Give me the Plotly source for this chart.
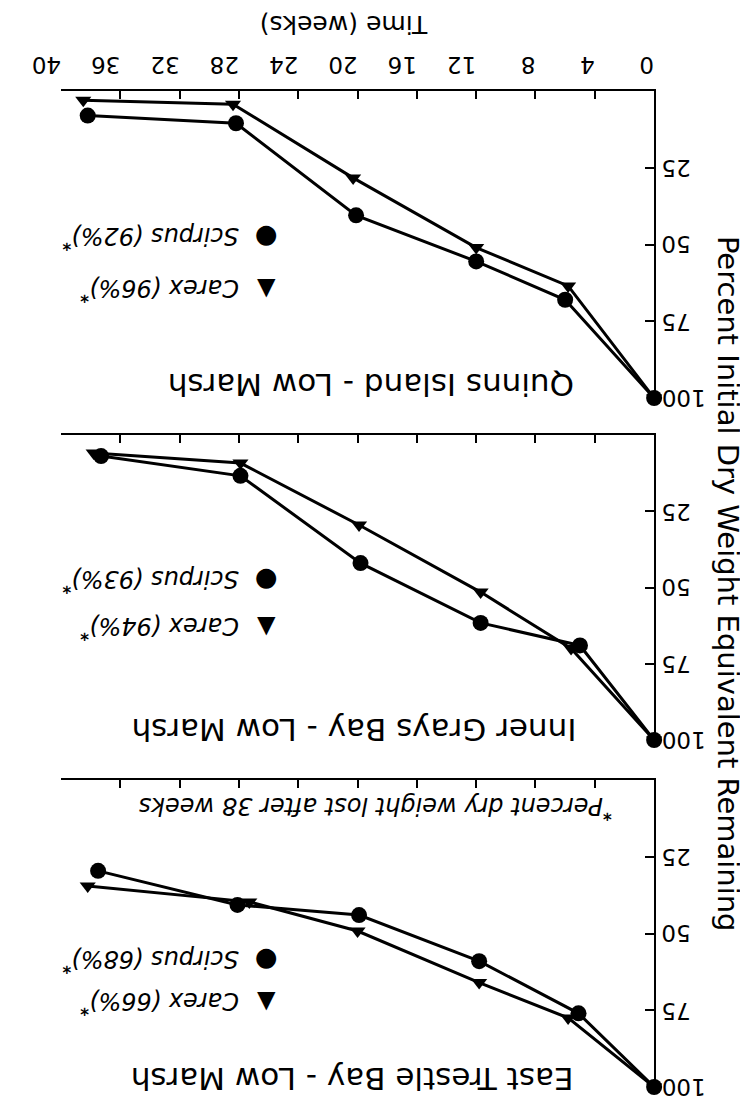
import plotly.graph_objects as go

W, H = 748, 1098
FONT = "DejaVu Sans"

# ---------------- data ----------------
week_ticks = [0, 4, 8, 12, 16, 20, 24, 28, 32, 36, 40]
pct_ticks = [25, 50, 75, 100]
pct_labels = ["25", "50", "75", "100"]

panel_titles = ["Quinns Island - Low Marsh",
                "Inner Grays Bay - Low Marsh",
                "East Trestle Bay - Low Marsh"]

scirpus_weeks = [[0, 6.0, 12.0, 20.1, 28.2, 38.2],
                 [0, 5.0, 11.7, 19.8, 27.9, 37.3],
                 [0, 5.1, 11.8, 19.9, 28.1, 37.5]]
scirpus_pct = [[100, 68.0, 55.5, 40.5, 10.5, 8.0],
               [100, 69.0, 61.6, 42.0, 13.4, 6.9],
               [100, 76.0, 59.0, 44.0, 40.7, 29.6]]

carex_weeks = [[0, 5.8, 12.0, 20.3, 28.4, 38.5],
               [0, 5.6, 11.7, 19.9, 27.9, 37.8],
               [0, 5.8, 11.8, 20.0, 27.3, 38.2]]
carex_pct = [[100, 63.5, 51.0, 28.3, 4.3, 3.0],
             [100, 70.0, 51.5, 29.5, 9.2, 5.9],
             [100, 77.5, 66.0, 49.2, 39.7, 34.5]]

scirpus_loss = [92, 93, 68]
carex_loss = [96, 94, 66]

# ---------------- layout geometry (pixels) ----------------
panels_px = [(83, 390), (427, 732), (772, 1079)]   # (top, bottom) of each panel
x_px = (25, 642)
title_pos = [(348, 377), (330, 722), (328, 1071)]
legend_rows = [(230, 282), (573, 620), (953, 995)]


def px(x):
    return x / W


def py(y):
    return 1 - y / H


fig = go.Figure()

layout = dict(
    width=W, height=H, autosize=False,
    margin=dict(l=0, r=0, t=0, b=0, pad=0),
    paper_bgcolor="white", plot_bgcolor="white",
    showlegend=False,
    font=dict(family=FONT, color="black"),
)

for i in range(3):
    xs = "" if i == 0 else str(i + 1)
    xref, yref = "x" + xs, "y" + xs
    top, bot = panels_px[i]

    fig.add_trace(go.Scatter(
        x=scirpus_weeks[i], y=scirpus_pct[i], mode="lines+markers",
        line=dict(color="black", width=3),
        marker=dict(symbol="circle", size=16, color="black"),
        xaxis=xref, yaxis=yref, cliponaxis=False, name="Scirpus"))
    fig.add_trace(go.Scatter(
        x=carex_weeks[i], y=carex_pct[i], mode="lines+markers",
        line=dict(color="black", width=3),
        marker=dict(symbol="triangle-down", size=14, color="black"),
        xaxis=xref, yaxis=yref, cliponaxis=False, name="Carex"))

    layout["xaxis" + xs] = dict(
        domain=[px(x_px[0]), px(x_px[1])], range=[40, 0], side="top",
        anchor=yref, showline=True, linecolor="black", linewidth=1.5,
        ticks="inside", ticklen=8, tickwidth=1.5, tickcolor="black",
        tickvals=week_ticks, showticklabels=(i == 0), tickangle=180,
        ticklabeloverflow="allow",
        tickfont=dict(family=FONT, size=23, color="black"),
        showgrid=False, zeroline=False, fixedrange=True)
    layout["yaxis" + xs] = dict(
        domain=[py(bot), py(top)], range=[100, 0], side="right",
        anchor=xref, showline=True, linecolor="black", linewidth=1.5,
        ticks="inside", ticklen=9, tickwidth=1.5, tickcolor="black",
        tickvals=pct_ticks, showticklabels=False,
        showgrid=False, zeroline=False, fixedrange=True)

fig.update_layout(**layout)


def ann(text, x, y, size, angle=180, yref="paper", xanchor="center"):
    fig.add_annotation(text=text, x=px(x), y=(py(y) if yref == "paper" else y),
                       xref="paper", yref=yref,
                       showarrow=False, textangle=angle,
                       xanchor=xanchor, yanchor="middle",
                       font=dict(family=FONT, size=size, color="black"))


# percent tick labels (upside down), placed on each panel's y scale
for i in range(3):
    yref = "y" if i == 0 else "y%d" % (i + 1)
    for v, lab in zip(pct_ticks, pct_labels):
        ann(lab, 648, v, 23, yref=yref, xanchor="left")

# axis titles
ann("Time (weeks)", 320, 17, 25)
ann("Percent Initial Dry Weight Equivalent Remaining", 719, 576, 29, angle=90)

# panel titles and legends
for i in range(3):
    tx, ty = title_pos[i]
    ann(panel_titles[i], tx, ty, 31)
    r1, r2 = legend_rows[i]
    ann("\u25CF", 238, r1, 26)
    ann("<i>Scirpus (%d%%)</i><sup><b>*</b></sup>" % scirpus_loss[i], 118, r1, 24)
    ann("\u25B2", 238, r2, 24)
    ann("<i>Carex (%d%%)</i><sup><b>*</b></sup>" % carex_loss[i], 128, r2, 24)

ann("<sup><b>*</b></sup><i>Percent dry weight lost after 38 weeks</i>", 352, 800, 24)

fig.write_html("out.html")
